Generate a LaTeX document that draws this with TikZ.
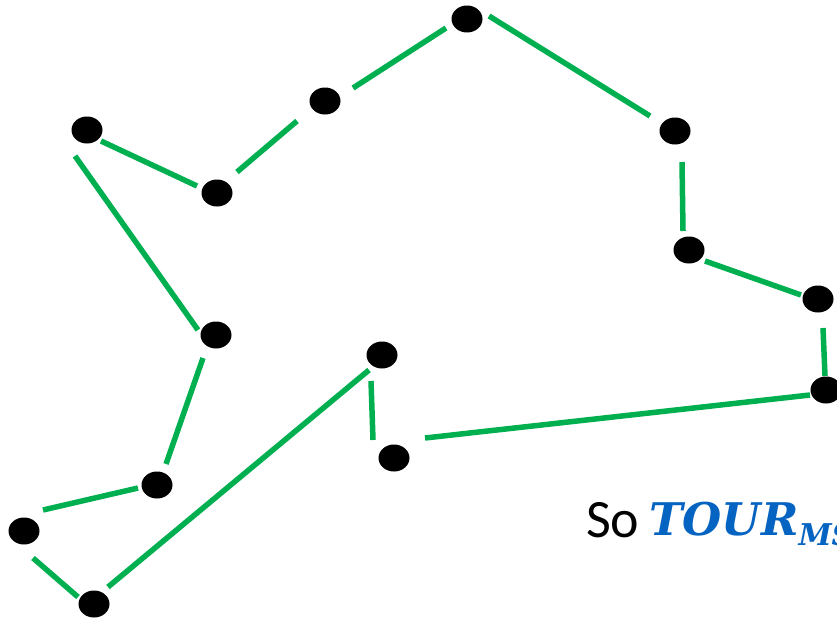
\documentclass[tikz,border=0pt]{standalone}
\usepackage{xcolor}
\usepackage{fontspec}
\setsansfont{Carlito}
\newfontfamily\mstfont{DejaVu Serif}
\usepackage{tikz}
\usetikzlibrary{shapes.geometric, calc}

\definecolor{tourgreen}{RGB}{0,176,80}
\definecolor{mstblue}{RGB}{5,99,193}

\begin{document}
\begin{tikzpicture}[
      x=1pt, y=-1pt,
      city/.style={ellipse, fill=black, minimum width=31pt, minimum height=27pt, inner sep=0pt},
      leg/.style={draw=tourgreen, line width=5.5pt}
    ]
      \clip (0,0) rectangle (837,621);
      \useasboundingbox (0,0) rectangle (837,621);

      \node[city] (c1) at (87,130) {};
      \node[city] (c2) at (217,193) {};
      \node[city] (c3) at (325,101) {};
      \node[city] (c4) at (467,19) {};
      \node[city] (c5) at (675,131) {};
      \node[city] (c6) at (689,250) {};
      \node[city] (c7) at (818,299) {};
      \node[city] (c8) at (826,390) {};
      \node[city] (c9) at (394,458) {};
      \node[city] (c10) at (382,355) {};
      \node[city] (c11) at (94,604) {};
      \node[city] (c12) at (24,531) {};
      \node[city] (c13) at (157,485) {};
      \node[city] (c14) at (216,335) {};

      % the tour: each leg starts and ends a little off its two cities
      \foreach \u/\ux/\uy/\v/\vx/\vy in {
          c1/14/11/c2/-20/-7, c2/20/-21/c3/-28/20, c3/28/-13/c4/-21/9,
          c4/22/-3/c5/-25/-15, c5/7/31/c6/-6/-19, c6/16/11/c7/-17/-4,
          c7/5/29/c8/-1/-14, c8/-16/5/c9/31/-20, c9/-21/-18/c10/-11/26,
          c10/-13/15/c11/14/-17, c11/-16/-7/c12/9/27, c12/19/-21/c13/-19/3,
          c13/9/-21/c14/-13/23, c14/-18/-5/c1/-12/26}
        \draw[leg] ($(\u)+(\ux,\uy)$) -- ($(\v)+(\vx,\vy)$);

      \node[anchor=base west, inner sep=0pt, font=\sffamily\fontsize{54}{60}\selectfont] (so) at (586,537) {So};
      \node[anchor=base west, inner sep=0pt, text=mstblue,
            font=\mstfont\bfseries\itshape\fontsize{45}{50}\selectfont] (tour) at (649,535)
        {TOUR\raisebox{-10pt}{\fontsize{30}{30}\selectfont MST}};
    \end{tikzpicture}
\end{document}
